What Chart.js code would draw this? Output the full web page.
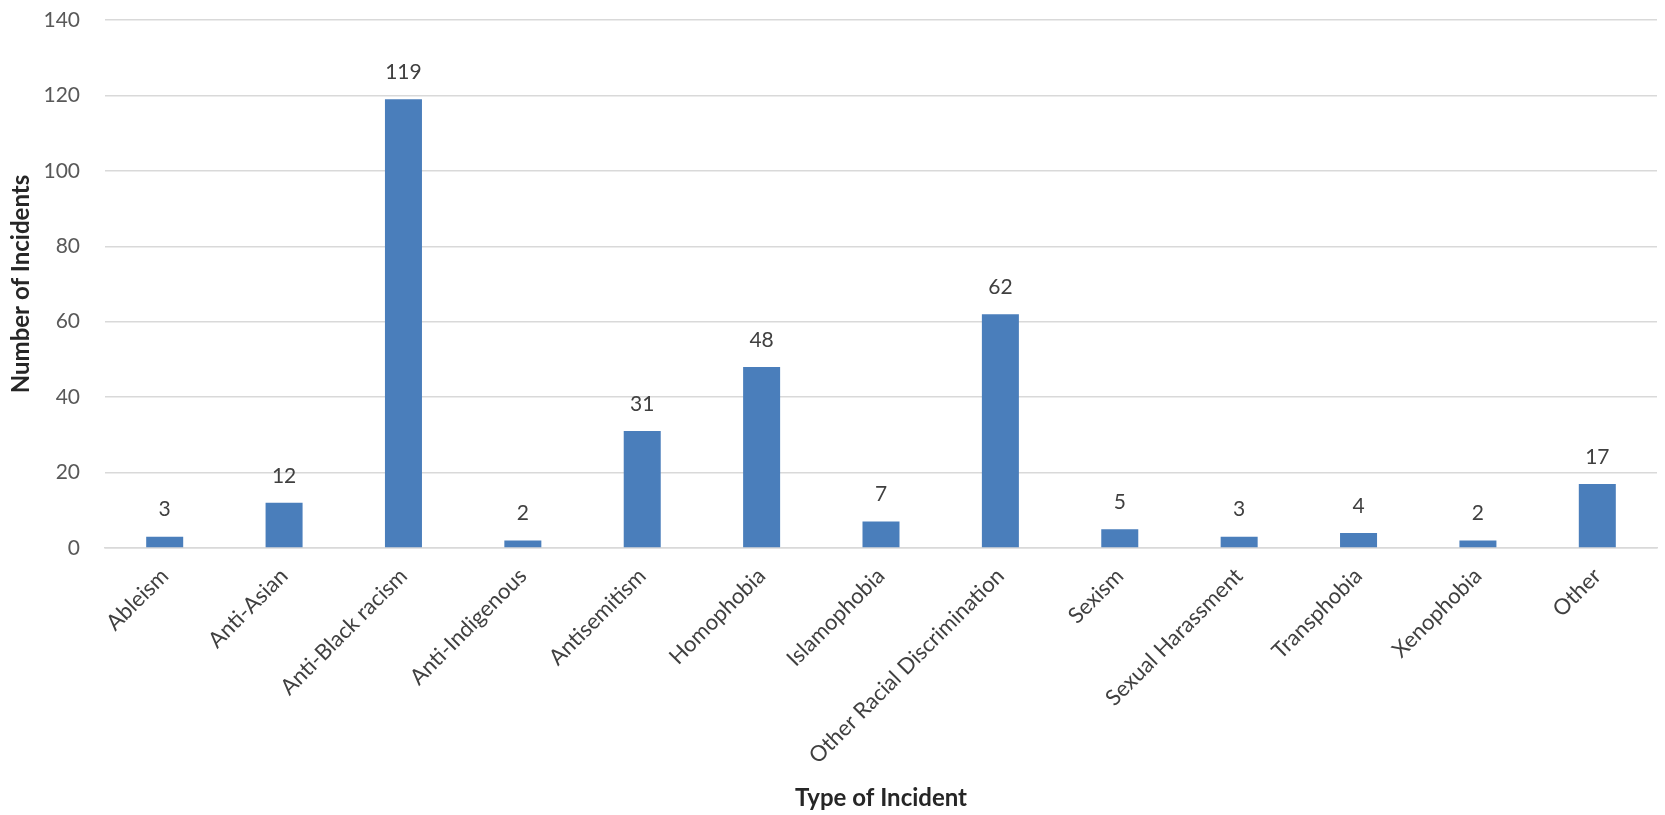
<!DOCTYPE html>
<html>
<head>
<meta charset="utf-8">
<script src="https://cdn.jsdelivr.net/npm/chart.js@4/dist/chart.umd.min.js"></script>
<style>
  html, body { margin: 0; padding: 0; background: #ffffff; }
  #wrap { width: 1665px; height: 815px; position: relative; }
</style>
</head>
<body>
<div id="wrap"><canvas id="c"></canvas></div>
<script>
const categories = ["Ableism", "Anti-Asian", "Anti-Black racism", "Anti-Indigenous", "Antisemitism", "Homophobia", "Islamophobia", "Other Racial Discrimination", "Sexism", "Sexual Harassment", "Transphobia", "Xenophobia", "Other"];
const incidents = [3, 12, 119, 2, 31, 48, 7, 62, 5, 3, 4, 2, 17];
const yTicks = [0, 20, 40, 60, 80, 100, 120, 140];
const xTitle = "Type of Incident";
const yTitle = "Number of Incidents";

const FONT = "Lato, 'Open Sans', sans-serif";

const valueLabels = {
  id: 'valueLabels',
  afterDatasetsDraw(chart) {
    const ctx = chart.ctx;
    const meta = chart.getDatasetMeta(0);
    ctx.save();
    ctx.font = "21px " + FONT;
    ctx.fillStyle = "#404040";
    ctx.textAlign = "center";
    ctx.textBaseline = "middle";
    meta.data.forEach((bar, i) => {
      ctx.fillText(String(incidents[i]), bar.x, bar.y - 27);
    });
    ctx.restore();
  }
};

new Chart(document.getElementById('c'), {
  type: 'bar',
  data: {
    labels: categories,
    datasets: [{
      data: incidents,
      backgroundColor: '#4a7ebb',
      borderWidth: 0,
      barPercentage: 0.31,
      categoryPercentage: 1.0
    }]
  },
  options: {
    responsive: true,
    maintainAspectRatio: false,
    animation: false,
    layout: { padding: { top: 20, right: 8, bottom: 0, left: 0 } },
    plugins: {
      legend: { display: false },
      tooltip: { enabled: false }
    },
    scales: {
      x: {
        grid: { display: false, drawTicks: false },
        border: { display: true, color: '#d9d9d9', width: 1.5 },
        ticks: {
          color: '#404040',
          font: { family: FONT, size: 22 },
          minRotation: 45,
          maxRotation: 45,
          autoSkip: false,
          padding: 15
        },
        title: {
          display: true,
          text: xTitle,
          color: '#262626',
          font: { family: FONT, size: 24, weight: 'bold' },
          padding: { top: 0, bottom: 2 }
        },
        afterFit(scale) { scale.height = 815 - 548; scale.paddingTop = 0; scale.paddingBottom = 0; }
      },
      y: {
        min: 0,
        max: 140,
        afterBuildTicks(scale) { scale.ticks = yTicks.map(v => ({ value: v })); },
        grid: { color: '#d9d9d9', lineWidth: 1.5, drawTicks: false },
        border: { display: false },
        ticks: {
          color: '#595959',
          font: { family: FONT, size: 21 },
          padding: 25
        },
        title: {
          display: true,
          text: yTitle,
          color: '#262626',
          font: { family: FONT, size: 24, weight: 'bold' },
          padding: { top: 7, bottom: 0 }
        },
        afterFit(scale) { scale.width = 105; scale.paddingTop = 0; scale.paddingBottom = 0; }
      }
    }
  },
  plugins: [valueLabels]
});
</script>
</body>
</html>
